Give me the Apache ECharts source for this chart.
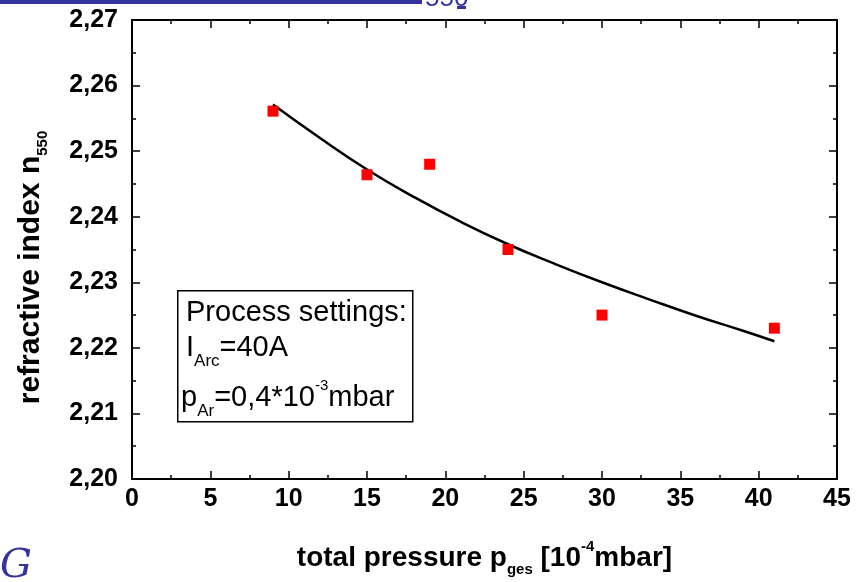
<!DOCTYPE html>
<html>
<head>
<meta charset="utf-8">
<script src="https://cdn.jsdelivr.net/npm/echarts@6/dist/echarts.min.js"></script>
<style>
  html, body { margin: 0; padding: 0; background: #fff; }
  #chart { width: 866px; height: 582px; }
</style>
</head>
<body>
<div id="chart"></div>
<script>
// Measured refractive index versus total pressure
const pressure = [9, 15, 19, 24, 30, 41];
const refIndex = [2.2561, 2.2464, 2.2480, 2.2350, 2.2250, 2.2230];

// Exponential fit curve, sampled
const fitPressure = [9, 12, 15, 18, 21, 24, 27, 30, 33, 36, 39, 41];
const fitIndex = [2.2571, 2.2520, 2.2472, 2.2430, 2.2392, 2.2358, 2.2328, 2.2300, 2.2274, 2.2249, 2.2226, 2.2210];

const xTicks = [0, 5, 10, 15, 20, 25, 30, 35, 40, 45];
const yTicks = [2.20, 2.21, 2.22, 2.23, 2.24, 2.25, 2.26, 2.27];

const FONT = '"Liberation Sans", Arial, sans-serif';
const BLUE = '#34349e';

const chart = echarts.init(document.getElementById('chart'), null, { renderer: 'canvas' });

const axisLineStyle = { color: '#000', width: 2 };
const baseX = {
  type: 'value',
  min: xTicks[0],
  max: xTicks[xTicks.length - 1],
  interval: 5,
  splitLine: { show: false },
  axisLine: { show: true, onZero: false, lineStyle: axisLineStyle },
  axisTick: { show: true, inside: true, length: 8, lineStyle: { color: '#000', width: 1.5 } },
  minorTick: { show: true, splitNumber: 2, length: 4, lineStyle: { color: '#000', width: 1.5 } }
};
const baseY = {
  type: 'value',
  min: yTicks[0],
  max: yTicks[yTicks.length - 1],
  interval: 0.01,
  splitLine: { show: false },
  axisLine: { show: true, onZero: false, lineStyle: axisLineStyle },
  axisTick: { show: true, inside: true, length: 8, lineStyle: { color: '#000', width: 1.5 } },
  minorTick: { show: true, splitNumber: 2, length: 4, lineStyle: { color: '#000', width: 1.5 } }
};

const scatterData = pressure.map((p, i) => [p, refIndex[i]]);
const fitData = fitPressure.map((p, i) => [p, fitIndex[i]]);

// rich text styles for the settings box
const boxRich = {
  m: { fill: '#000', fontFamily: FONT, fontSize: 29, lineHeight: 46, verticalAlign: 'middle' },
  s: { fill: '#000', fontFamily: FONT, fontSize: 17, lineHeight: 17, verticalAlign: 'bottom', padding: [0, 0, 1, 0] },
  u: { fill: '#000', fontFamily: FONT, fontSize: 15, lineHeight: 15, verticalAlign: 'top', padding: [3, 0, 0, 0] }
};

chart.setOption({
  animation: false,
  backgroundColor: '#fff',
  grid: { left: 132, right: 29, top: 20, bottom: 103, containLabel: false },
  xAxis: [
    Object.assign({}, baseX, {
      position: 'bottom',
      axisLabel: { show: true, margin: 8, color: '#000', fontFamily: FONT, fontWeight: 'bold', fontSize: 25 },
      name: 'total pressure p{sub|ges} [10{sup|-4}mbar]',
      nameLocation: 'middle',
      nameGap: 60,
      nameTextStyle: {
        color: '#000', fontFamily: FONT, fontWeight: 'bold', fontSize: 28, lineHeight: 38,
        rich: {
          sub: { fontFamily: FONT, fontWeight: 'bold', fontSize: 15, lineHeight: 15, verticalAlign: 'bottom', color: '#000' },
          sup: { fontFamily: FONT, fontWeight: 'bold', fontSize: 15, lineHeight: 15, verticalAlign: 'top', color: '#000' }
        }
      }
    }),
    Object.assign({}, baseX, { position: 'top', axisLabel: { show: false } })
  ],
  yAxis: [
    Object.assign({}, baseY, {
      position: 'left',
      axisLabel: {
        show: true, margin: 14, color: '#000', fontFamily: FONT, fontWeight: 'bold', fontSize: 25,
        formatter: v => v.toFixed(2).replace('.', ',')
      },
      name: 'refractive index n{sub|550}',
      nameLocation: 'middle',
      nameRotate: 90,
      nameGap: 82,
      nameTextStyle: {
        color: '#000', fontFamily: FONT, fontWeight: 'bold', fontSize: 30, lineHeight: 38,
        padding: [0, 36, 0, 0],
        rich: {
          sub: { fontFamily: FONT, fontWeight: 'bold', fontSize: 15, lineHeight: 15, verticalAlign: 'bottom', color: '#000' }
        }
      }
    }),
    Object.assign({}, baseY, { position: 'right', axisLabel: { show: false } })
  ],
  series: [
    {
      name: 'fit',
      type: 'line',
      data: fitData,
      smooth: true,
      showSymbol: false,
      lineStyle: { color: '#000', width: 2.5 },
      z: 2
    },
    {
      name: 'measured',
      type: 'scatter',
      data: scatterData,
      symbol: 'rect',
      symbolSize: 11,
      itemStyle: { color: '#ff0000', opacity: 1 },
      z: 3
    }
  ],
  graphic: [
    // process settings box
    {
      type: 'rect',
      left: 177, top: 290,
      shape: { width: 235, height: 131 },
      style: { fill: '#fff', stroke: '#000', lineWidth: 1.5 },
      z: 10
    },
    {
      type: 'text', left: 186, top: 298, z: 11,
      style: { text: '{m|Process settings:}', rich: boxRich }
    },
    {
      type: 'text', left: 186, top: 333, z: 11,
      style: { text: '{m|I}{s|Arc}{m|=40A}', rich: boxRich }
    },
    {
      type: 'text', left: 181, top: 375, z: 11,
      style: { text: '{m|p}{s|Ar}{m|=0,4*10}{u|-3}{m|mbar}', rich: boxRich }
    },
    // slide decorations
    {
      type: 'rect', left: 0, top: 0, shape: { width: 422, height: 4 },
      style: { fill: BLUE }, z: 20
    },
    {
      type: 'text', left: 425, top: -14, z: 20,
      style: { text: '550', fill: BLUE, font: '26px ' + FONT }
    },
    {
      type: 'rect', left: 457, top: 6, shape: { width: 9, height: 3 },
      style: { fill: BLUE }, z: 20
    },
    {
      type: 'text', left: 0, top: 547, z: 20,
      style: { text: 'G', fill: BLUE, font: 'italic 40px "DejaVu Serif", serif' }
    }
  ]
});
</script>
</body>
</html>
